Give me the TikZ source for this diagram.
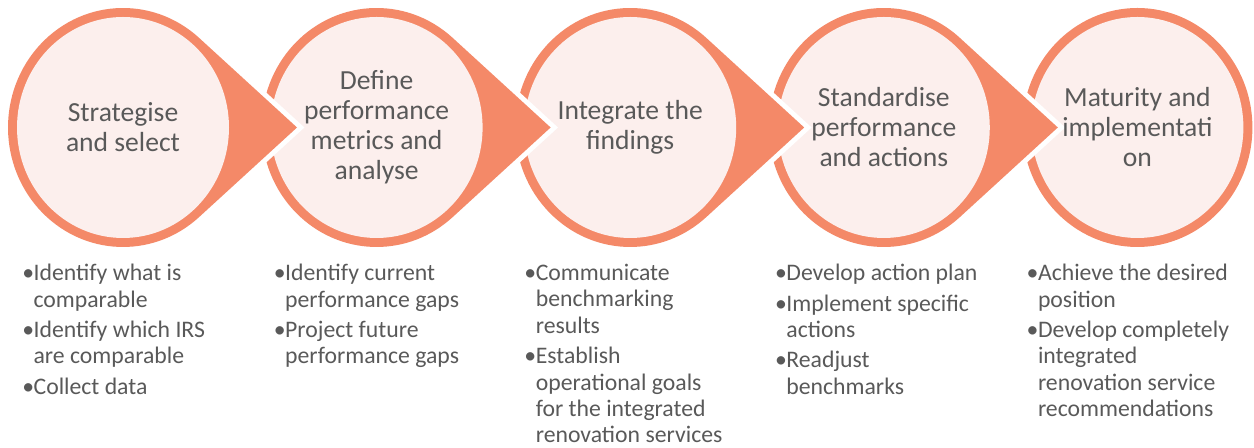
\documentclass[tikz,border=0pt]{standalone}
\usepackage{fontspec}
\setmainfont{Carlito}
\usetikzlibrary{positioning, backgrounds}

\definecolor{salmon}{RGB}{244,137,104}
\definecolor{blush}{RGB}{252,239,237}
\definecolor{ink}{RGB}{89,89,89}

\newcommand{\blt}{\makebox[8.5pt][l]{\textbullet}}
\newcommand{\indt}{\hspace*{8.5pt}}

\begin{document}
\begin{tikzpicture}[x=0.75pt, y=0.75pt,
    node distance=190.2pt,          % centre to centre of two steps
    title/.style={inner sep=0pt,
                  on grid,
                  align=center,
                  text=ink,
                  font=\fontsize{20.7}{22.5}\selectfont},
    points/.style={inner sep=0pt,
                   anchor=north west,
                   align=left,
                   text=ink,
                   font=\fontsize{17.8}{19.8}\selectfont},
    drop/.style={fill=salmon, preaction={draw=white, line width=7.5pt}},
    ring/.style={fill=salmon},
    core/.style={fill=blush}]

  \useasboundingbox (0,0) rectangle (1254,448);

  % Step titles in one row:
  \node[title] (Strategise) at (123,320.5) {Strategise\\and select};
  \node[title, right=of Strategise] (Define)
        {Define\\performance\\metrics and\\analyse};
  \node[title, right=of Define] (Integrate) {Integrate the\\findings};
  \node[title, right=of Integrate] (Standardise)
        {Standardise\\performance\\and actions};
  \node[title, right=of Standardise] (Maturity)
        {Maturity and\\implementati\\on};

  % Bullet lists below the steps
  \node[points] (StrategiseList) at ([shift={(-101,-136.5)}]Strategise.center)
        {\blt Identify what is\\\indt comparable\\[3pt]
         \blt Identify which IRS\\\indt are comparable\\[3pt]
         \blt Collect data};
  \node[points] (DefineList) at ([shift={(-103,-136.5)}]Define.center)
        {\blt Identify current\\\indt performance gaps\\[3pt]
         \blt Project future\\\indt performance gaps};
  \node[points] (IntegrateList) at ([shift={(-106,-136.5)}]Integrate.center)
        {\blt Communicate\\\indt benchmarking\\\indt results\\[3pt]
         \blt Establish\\\indt operational goals\\\indt for the integrated\\\indt renovation services};
  \node[points] (StandardiseList) at ([shift={(-109,-136.5)}]Standardise.center)
        {\blt Develop action plan\\[3pt]
         \blt Implement specific\\\indt actions\\[3pt]
         \blt Readjust\\\indt benchmarks};
  \node[points] (MaturityList) at ([shift={(-111,-136.5)}]Maturity.center)
        {\blt Achieve the desired\\\indt position\\[3pt]
         \blt Develop completely\\\indt integrated\\\indt renovation service\\\indt recommendations};

  % Teardrops behind the titles, the last one first
  \begin{scope}[on background layer]
    \fill[ring] (Maturity.center) ellipse [x radius=115, y radius=119.5];
    \fill[core] (Maturity.center) ellipse [x radius=106, y radius=110.5];

    \fill[drop, shift={(Standardise.center)}] (48.6:115 and 119.5)
      arc [start angle=48.6, end angle=311.4, x radius=115, y radius=119.5]
      -- (174,0) -- cycle;
    \fill[core] (Standardise.center) ellipse [x radius=106, y radius=110.5];

    \fill[drop, shift={(Integrate.center)}] (48.6:115 and 119.5)
      arc [start angle=48.6, end angle=311.4, x radius=115, y radius=119.5]
      -- (174,0) -- cycle;
    \fill[core] (Integrate.center) ellipse [x radius=106, y radius=110.5];

    \fill[drop, shift={(Define.center)}] (48.6:115 and 119.5)
      arc [start angle=48.6, end angle=311.4, x radius=115, y radius=119.5]
      -- (174,0) -- cycle;
    \fill[core] (Define.center) ellipse [x radius=106, y radius=110.5];

    \fill[drop, shift={(Strategise.center)}] (48.6:115 and 119.5)
      arc [start angle=48.6, end angle=311.4, x radius=115, y radius=119.5]
      -- (174,0) -- cycle;
    \fill[core] (Strategise.center) ellipse [x radius=106, y radius=110.5];
  \end{scope}

\end{tikzpicture}
\end{document}
